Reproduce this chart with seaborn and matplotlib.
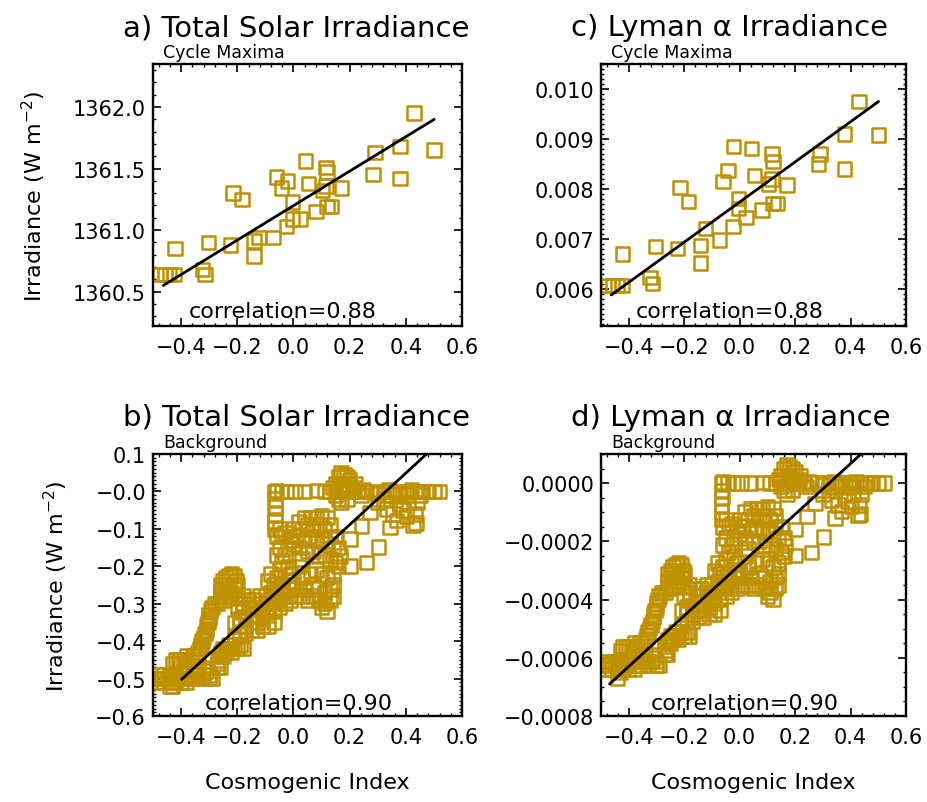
import numpy as np
import matplotlib
matplotlib.use("Agg")
import matplotlib.pyplot as plt
import seaborn as sns
from matplotlib.ticker import FixedLocator, MultipleLocator

sns.set_theme(style="ticks")
plt.rcParams["font.family"] = ["DejaVu Sans"]
plt.rcParams["mathtext.fontset"] = "dejavusans"
plt.rcParams["text.color"] = "black"
plt.rcParams["axes.labelcolor"] = "black"
plt.rcParams["xtick.color"] = "black"
plt.rcParams["ytick.color"] = "black"

GOLD = "#BF9000"

# ---------------- Cycle maxima (panels a and c) ----------------
max_index = [-0.475, -0.458, -0.441, -0.425, -0.422, -0.323, -0.315, -0.303, -0.224, -0.216,
             -0.184, -0.141, -0.141, -0.123, -0.072, -0.060, -0.042, -0.022, -0.024, -0.004,
             -0.004, 0.023, 0.043, 0.053, 0.080, 0.104, 0.116, 0.120, 0.116, 0.120,
             0.136, 0.171, 0.284, 0.290, 0.379, 0.379, 0.430, 0.500]
max_tsi = [1360.64, 1360.64, 1360.64, 1360.64, 1360.85, 1360.68, 1360.64, 1360.90, 1360.88, 1361.30,
           1361.25, 1360.91, 1360.79, 1360.94, 1360.94, 1361.43, 1361.34, 1361.40, 1361.03, 1361.23,
           1361.09, 1361.09, 1361.56, 1361.38, 1361.15, 1361.32, 1361.51, 1361.47, 1361.36, 1361.19,
           1361.19, 1361.34, 1361.45, 1361.63, 1361.68, 1361.42, 1361.95, 1361.65]
max_lya = [0.00607, 0.00607, 0.00607, 0.00607, 0.00670, 0.00623, 0.00611, 0.00685, 0.00681, 0.00803,
           0.00775, 0.00687, 0.00652, 0.00721, 0.00698, 0.00815, 0.00837, 0.00885, 0.00725, 0.00781,
           0.00761, 0.00743, 0.00881, 0.00827, 0.00758, 0.00810, 0.00870, 0.00855, 0.00820, 0.00771,
           0.00771, 0.00808, 0.00850, 0.00870, 0.00910, 0.00840, 0.00975, 0.00908]

# ---------------- Background (panels b and d) ----------------
bg_index = (
    [-0.49, -0.48, -0.47, -0.46, -0.45, -0.44, -0.43, -0.42, -0.41, -0.40, -0.39, -0.38, -0.37, -0.36, -0.35, -0.34,
     -0.33, -0.32, -0.31, -0.30, -0.29, -0.48, -0.46, -0.44, -0.43, -0.42, -0.40, -0.38, -0.36, -0.34, -0.32, -0.30, -0.44]
    + [-0.43, -0.42, -0.41, -0.40, -0.39, -0.38, -0.37, -0.36, -0.35, -0.34, -0.335, -0.33, -0.325, -0.32, -0.315, -0.31,
       -0.31, -0.305, -0.30, -0.30, -0.295, -0.29, -0.28, -0.27, -0.26, -0.25, -0.26, -0.25, -0.26, -0.25, -0.24, -0.23,
       -0.22, -0.21, -0.205, -0.20, -0.21, -0.22, -0.23, -0.24]
    + [-0.27, -0.27, -0.27, -0.26, -0.26, -0.25, -0.24, -0.23, -0.22, -0.21, -0.20, -0.19, -0.18, -0.26, -0.25, -0.24, -0.22]
    + [-0.21, -0.19, -0.17, -0.15, -0.13, -0.11, -0.09, -0.07,
       -0.21, -0.19, -0.17, -0.15, -0.13, -0.11, -0.09, -0.07, -0.05, -0.03,
       -0.20, -0.18, -0.16, -0.14, -0.12, -0.10, -0.08, -0.06, -0.04, -0.02,
       -0.24, -0.22, -0.20, -0.18,
       -0.19, -0.17, -0.15, -0.13, -0.11, -0.09, -0.07, -0.05, -0.03, -0.01, 0.01,
       -0.18, -0.16, -0.14, -0.12, -0.10, -0.08, -0.06, -0.04, -0.02, 0.00]
    + [-0.07, -0.06, -0.05, -0.04, -0.03, -0.02, -0.01, 0.00, -0.02, -0.01, 0.00, 0.01, -0.05, -0.06, -0.04, -0.06,
       -0.05, -0.03, -0.08, -0.09, 0.02, 0.03, 0.04, 0.03, 0.05]
    + [-0.066, -0.066, -0.066, -0.064, -0.066, -0.066, -0.060]
    + [-0.042, -0.024, 0.005, 0.040, 0.082, 0.110]
    + [0.13, 0.14, 0.15, 0.16, 0.17, 0.18, 0.19, 0.18, 0.17, 0.16, 0.17, 0.19, 0.21, 0.22, 0.23, 0.24, 0.25, 0.26,
       0.20, 0.215, 0.15, 0.19]
    + [0.28, 0.30, 0.32, 0.34, 0.36, 0.38, 0.40, 0.42, 0.44, 0.46, 0.48, 0.50, 0.52, 0.35, 0.41, 0.45]
    + [0.320, 0.332, 0.343, 0.367, 0.379, 0.403, 0.426, 0.436, 0.432, 0.410, 0.440, 0.390, 0.355]
    + [0.165, 0.201, 0.243, 0.272, 0.201, 0.260, 0.302, 0.300]
    + [0.00, 0.02, 0.04, 0.06, 0.08, 0.10, 0.12, 0.13,
       0.01, 0.03, 0.05, 0.07, 0.09, 0.11, 0.13, 0.15,
       0.02, 0.04, 0.06, 0.08, 0.10, 0.12, 0.14, 0.16,
       0.03, 0.05, 0.07, 0.09, 0.11, 0.13, 0.15, 0.16,
       0.06, 0.08, 0.10, 0.12, 0.14,
       0.07, 0.09, 0.11, 0.13, 0.14,
       0.07, 0.09, 0.11, 0.13, 0.14, 0.10, 0.12]
)
bg_tsi = (
    [-0.50, -0.49, -0.50, -0.49, -0.50, -0.51, -0.50, -0.49, -0.50, -0.49, -0.48, -0.49, -0.50, -0.49, -0.48, -0.49,
     -0.50, -0.49, -0.48, -0.49, -0.50, -0.51, -0.51, -0.49, -0.52, -0.51, -0.51, -0.51, -0.50, -0.47, -0.47, -0.50, -0.52]
    + [-0.46, -0.45, -0.45, -0.45, -0.45, -0.44, -0.45, -0.44, -0.44, -0.43, -0.42, -0.41, -0.40, -0.39, -0.38, -0.37,
       -0.36, -0.35, -0.34, -0.33, -0.32, -0.31, -0.30, -0.30, -0.29, -0.29, -0.27, -0.26, -0.25, -0.24, -0.23, -0.225,
       -0.22, -0.225, -0.24, -0.25, -0.26, -0.27, -0.26, -0.25]
    + [-0.47, -0.46, -0.45, -0.44, -0.43, -0.42, -0.42, -0.41, -0.42, -0.41, -0.42, -0.41, -0.42, -0.47, -0.44, -0.43, -0.43]
    + [-0.39, -0.38, -0.38, -0.37, -0.37, -0.36, -0.36, -0.35,
       -0.35, -0.34, -0.34, -0.33, -0.33, -0.32, -0.31, -0.30, -0.29, -0.28,
       -0.31, -0.30, -0.29, -0.29, -0.28, -0.28, -0.27, -0.26, -0.25, -0.24,
       -0.28, -0.28, -0.285, -0.28,
       -0.36, -0.36, -0.35, -0.35, -0.34, -0.33, -0.32, -0.31, -0.30, -0.29, -0.28,
       -0.32, -0.31, -0.31, -0.30, -0.30, -0.29, -0.28, -0.27, -0.26, -0.25]
    + [-0.25, -0.23, -0.21, -0.19, -0.17, -0.15, -0.13, -0.14, -0.20, -0.22, -0.24, -0.26, -0.15, -0.17, -0.12, -0.12,
       -0.10, -0.11, -0.22, -0.24, -0.20, -0.23, -0.26, -0.28, -0.29]
    + [-0.10, -0.08, -0.06, -0.04, -0.02, 0.00, 0.003]
    + [0.00, 0.00, 0.00, 0.00, 0.002, 0.00]
    + [0.00, 0.01, 0.02, 0.04, 0.05, 0.045, 0.04, 0.02, 0.00, -0.02, -0.03, -0.02, 0.00, 0.02, 0.00, -0.01, 0.005, 0.00,
       0.03, 0.01, -0.01, 0.00]
    + [0.00, -0.005, 0.00, 0.005, 0.00, -0.005, 0.00, 0.005, 0.00, 0.00, 0.00, 0.00, 0.00, -0.01, -0.01, -0.01]
    + [-0.020, -0.047, -0.096, -0.078, -0.034, -0.065, -0.089, -0.085, -0.061, -0.030, -0.030, -0.050, -0.060]
    + [-0.172, -0.127, -0.092, -0.056, -0.199, -0.190, -0.149, -0.030]
    + [-0.10, -0.08, -0.07, -0.07, -0.07, -0.065, -0.07, -0.09,
       -0.12, -0.10, -0.09, -0.10, -0.09, -0.10, -0.12, -0.12,
       -0.15, -0.13, -0.12, -0.13, -0.13, -0.14, -0.15, -0.15,
       -0.18, -0.16, -0.16, -0.17, -0.17, -0.18, -0.19, -0.20,
       -0.22, -0.21, -0.22, -0.23, -0.22,
       -0.25, -0.26, -0.27, -0.26, -0.25,
       -0.28, -0.29, -0.30, -0.29, -0.28, -0.31, -0.32]
)
# Lyman alpha background, in units of 1e-4 W m-2
bg_lya_e4 = (
    [-6.25, -6.12, -6.25, -6.12, -6.25, -6.38, -6.25, -6.12, -6.25, -6.12, -6.00, -6.12, -6.25, -6.12, -6.00, -6.12,
     -6.25, -6.12, -6.00, -6.12, -6.25, -6.38, -6.38, -6.12, -6.50, -6.38, -6.38, -6.38, -6.25, -5.88, -5.88, -6.25, -6.70]
    + [-5.75, -5.62, -5.62, -5.62, -5.62, -5.50, -5.62, -5.50, -5.50, -5.38, -5.25, -5.12, -5.00, -4.88, -4.75, -4.62,
       -4.50, -4.38, -4.25, -4.12, -4.00, -3.88, -3.75, -3.75, -3.62, -3.62, -3.38, -3.25, -3.12, -3.00, -2.88, -2.81,
       -2.75, -2.81, -3.00, -3.12, -3.25, -3.38, -3.25, -3.12]
    + [-5.88, -5.75, -5.62, -5.50, -5.38, -5.25, -5.25, -5.12, -5.25, -5.12, -5.25, -5.12, -5.25, -5.88, -5.50, -5.38, -5.38]
    + [-4.88, -4.75, -4.75, -4.62, -4.62, -4.50, -4.50, -4.38,
       -4.38, -4.25, -4.25, -4.12, -4.12, -4.00, -3.88, -3.75, -3.62, -3.50,
       -3.88, -3.75, -3.62, -3.62, -3.50, -3.50, -3.38, -3.25, -3.12, -3.00,
       -3.50, -3.50, -3.56, -3.50,
       -4.50, -4.50, -4.38, -4.38, -4.25, -4.12, -4.00, -3.88, -3.75, -3.62, -3.50,
       -4.00, -3.88, -3.88, -3.75, -3.75, -3.62, -3.50, -3.38, -3.25, -3.12]
    + [-3.12, -2.88, -2.62, -2.38, -2.12, -1.88, -1.62, -1.75, -2.50, -2.75, -3.00, -3.25, -1.88, -2.12, -1.50, -1.50,
       -1.25, -1.38, -2.75, -3.00, -2.50, -2.88, -3.25, -3.50, -3.62]
    + [-1.25, -1.00, -0.75, -0.50, -0.25, 0.00, 0.04]
    + [0.00, 0.00, 0.00, 0.00, 0.02, 0.00]
    + [0.00, 0.12, 0.25, 0.50, 0.62, 0.56, 0.50, 0.25, 0.00, -0.25, -0.38, -0.25, 0.00, 0.25, 0.00, -0.12, 0.06, 0.00,
       0.38, 0.12, -0.12, 0.00]
    + [0.00, -0.06, 0.00, 0.06, 0.00, -0.06, 0.00, 0.06, 0.00, 0.00, 0.00, 0.00, 0.00, -0.12, -0.12, -0.12]
    + [-0.25, -0.59, -1.20, -0.98, -0.42, -0.81, -1.11, -1.06, -0.76, -0.38, -0.38, -0.62, -0.75]
    + [-2.15, -1.59, -1.15, -0.70, -2.49, -2.38, -1.86, -0.38]
    + [-1.25, -1.00, -0.88, -0.88, -0.88, -0.81, -0.88, -1.12,
       -1.50, -1.25, -1.12, -1.25, -1.12, -1.25, -1.50, -1.50,
       -1.88, -1.62, -1.50, -1.62, -1.62, -1.75, -1.88, -1.88,
       -2.25, -2.00, -2.00, -2.12, -2.12, -2.25, -2.38, -2.50,
       -2.75, -2.62, -2.75, -2.88, -2.75,
       -3.12, -3.25, -3.38, -3.25, -3.12,
       -3.50, -3.62, -3.75, -3.62, -3.50, -3.88, -4.00]
)

# fitted regression lines (end points)
fit_a_x, fit_a_y = [-0.463, 0.501], [1360.55, 1361.90]
fit_c_x, fit_c_y = [-0.463, 0.501], [0.00588, 0.00975]
fit_b_x, fit_b_y = [-0.398, 0.474], [-0.502, 0.100]
fit_d_x, fit_d_y = [-0.469, 0.438], [-6.9e-4, 1.0e-4]

# tick definitions
x_ticks = [-0.4, -0.2, 0.0, 0.2, 0.4, 0.6]
x_ticklabels = ["\u22120.4", "\u22120.2", "0.0", "0.2", "0.4", "0.6"]
a_ticks = [1360.5, 1361.0, 1361.5, 1362.0]
a_ticklabels = ["1360.5", "1361.0", "1361.5", "1362.0"]
c_ticks = [0.006, 0.007, 0.008, 0.009, 0.010]
c_ticklabels = ["0.006", "0.007", "0.008", "0.009", "0.010"]
b_ticks = [-0.6, -0.5, -0.4, -0.3, -0.2, -0.1, 0.0, 0.1]
b_ticklabels = ["\u22120.6", "\u22120.5", "\u22120.4", "\u22120.3", "\u22120.2", "\u22120.1", "\u22120.0", "0.1"]
d_ticks = [-0.0008, -0.0006, -0.0004, -0.0002, 0.0]
d_ticklabels = ["\u22120.0008", "\u22120.0006", "\u22120.0004", "\u22120.0002", "0.0000"]

W, H = 928, 803
fig = plt.figure(figsize=(W / 100, H / 100), dpi=100)


def add_ax(l, t, r, b):
    return fig.add_axes([l / W, 1 - b / H, (r - l) / W, (b - t) / H])


ax_a = add_ax(153, 65, 462, 327)
ax_c = add_ax(601, 65, 906, 327)
ax_b = add_ax(153, 455, 462, 717)
ax_d = add_ax(601, 455, 906, 717)

panels = [
    (ax_a, max_index, max_tsi, fit_a_x, fit_a_y, (1360.22, 1362.35), a_ticks, a_ticklabels, 0.1,
     "a) Total Solar Irradiance", "Cycle Maxima", "correlation=0.88", 0.42, 0.034, 153, 65),
    (ax_c, max_index, max_lya, fit_c_x, fit_c_y, (0.00526, 0.0105), c_ticks, c_ticklabels, 0.0001,
     "c) Lyman \u03b1 Irradiance", "Cycle Maxima", "correlation=0.88", 0.423, 0.034, 601, 65),
    (ax_b, bg_index, bg_tsi, fit_b_x, fit_b_y, (-0.6, 0.1), b_ticks, b_ticklabels, 0.01,
     "b) Total Solar Irradiance", "Background", "correlation=0.90", 0.471, 0.027, 153, 455),
    (ax_d, bg_index, list(np.array(bg_lya_e4) * 1e-4), fit_d_x, fit_d_y, (-0.0008, 0.0001), d_ticks, d_ticklabels,
     0.00005, "d) Lyman \u03b1 Irradiance", "Background", "correlation=0.90", 0.472, 0.027, 601, 455),
]

for (ax, xs, ys, fx, fy, ylim, yt, ytl, yminor, title, sub, corr, cx, cy, left_px, top_px) in panels:
    sns.scatterplot(x=xs, y=ys, ax=ax, marker="s", s=95, facecolor="none",
                    edgecolor=GOLD, linewidth=1.8, zorder=2)
    ax.plot(fx, fy, color="black", lw=2.0, zorder=3)
    ax.set_xlim(-0.5, 0.6)
    ax.set_ylim(*ylim)
    ax.xaxis.set_major_locator(FixedLocator(x_ticks))
    ax.set_xticklabels(x_ticklabels)
    ax.xaxis.set_minor_locator(MultipleLocator(0.04))
    ax.yaxis.set_major_locator(FixedLocator(yt))
    ax.set_yticklabels(ytl)
    ax.yaxis.set_minor_locator(MultipleLocator(yminor))
    ax.tick_params(which="both", direction="in", top=True, right=True, colors="black",
                   labelsize=15, width=1.2)
    ax.tick_params(which="major", length=6)
    ax.tick_params(which="minor", length=2.5, width=1.0)
    ax.tick_params(axis="x", pad=8)
    ax.tick_params(axis="y", pad=5)
    for sp in ax.spines.values():
        sp.set_linewidth(1.7)
        sp.set_color("black")
        sp.set_visible(True)
    ax.set_facecolor("white")
    ax.text(cx, cy, corr, transform=ax.transAxes, ha="center", va="baseline", fontsize=16, color="black")
    fig.text((left_px - 30) / W, 1 - (top_px - 29) / H, title, ha="left", va="baseline", fontsize=21,
             color="black")
    fig.text((left_px + 10) / W, 1 - (top_px - 7) / H, sub, ha="left", va="baseline", fontsize=12.5,
             color="black")

ax_a.set_ylabel("Irradiance (W m$^{-2}$)", fontsize=16, labelpad=18)
ax_b.set_ylabel("Irradiance (W m$^{-2}$)", fontsize=16, labelpad=18)
ax_b.set_xlabel("Cosmogenic Index", fontsize=16, labelpad=18)
ax_d.set_xlabel("Cosmogenic Index", fontsize=16, labelpad=18)

fig.savefig("out.png", dpi=100, facecolor="white")
